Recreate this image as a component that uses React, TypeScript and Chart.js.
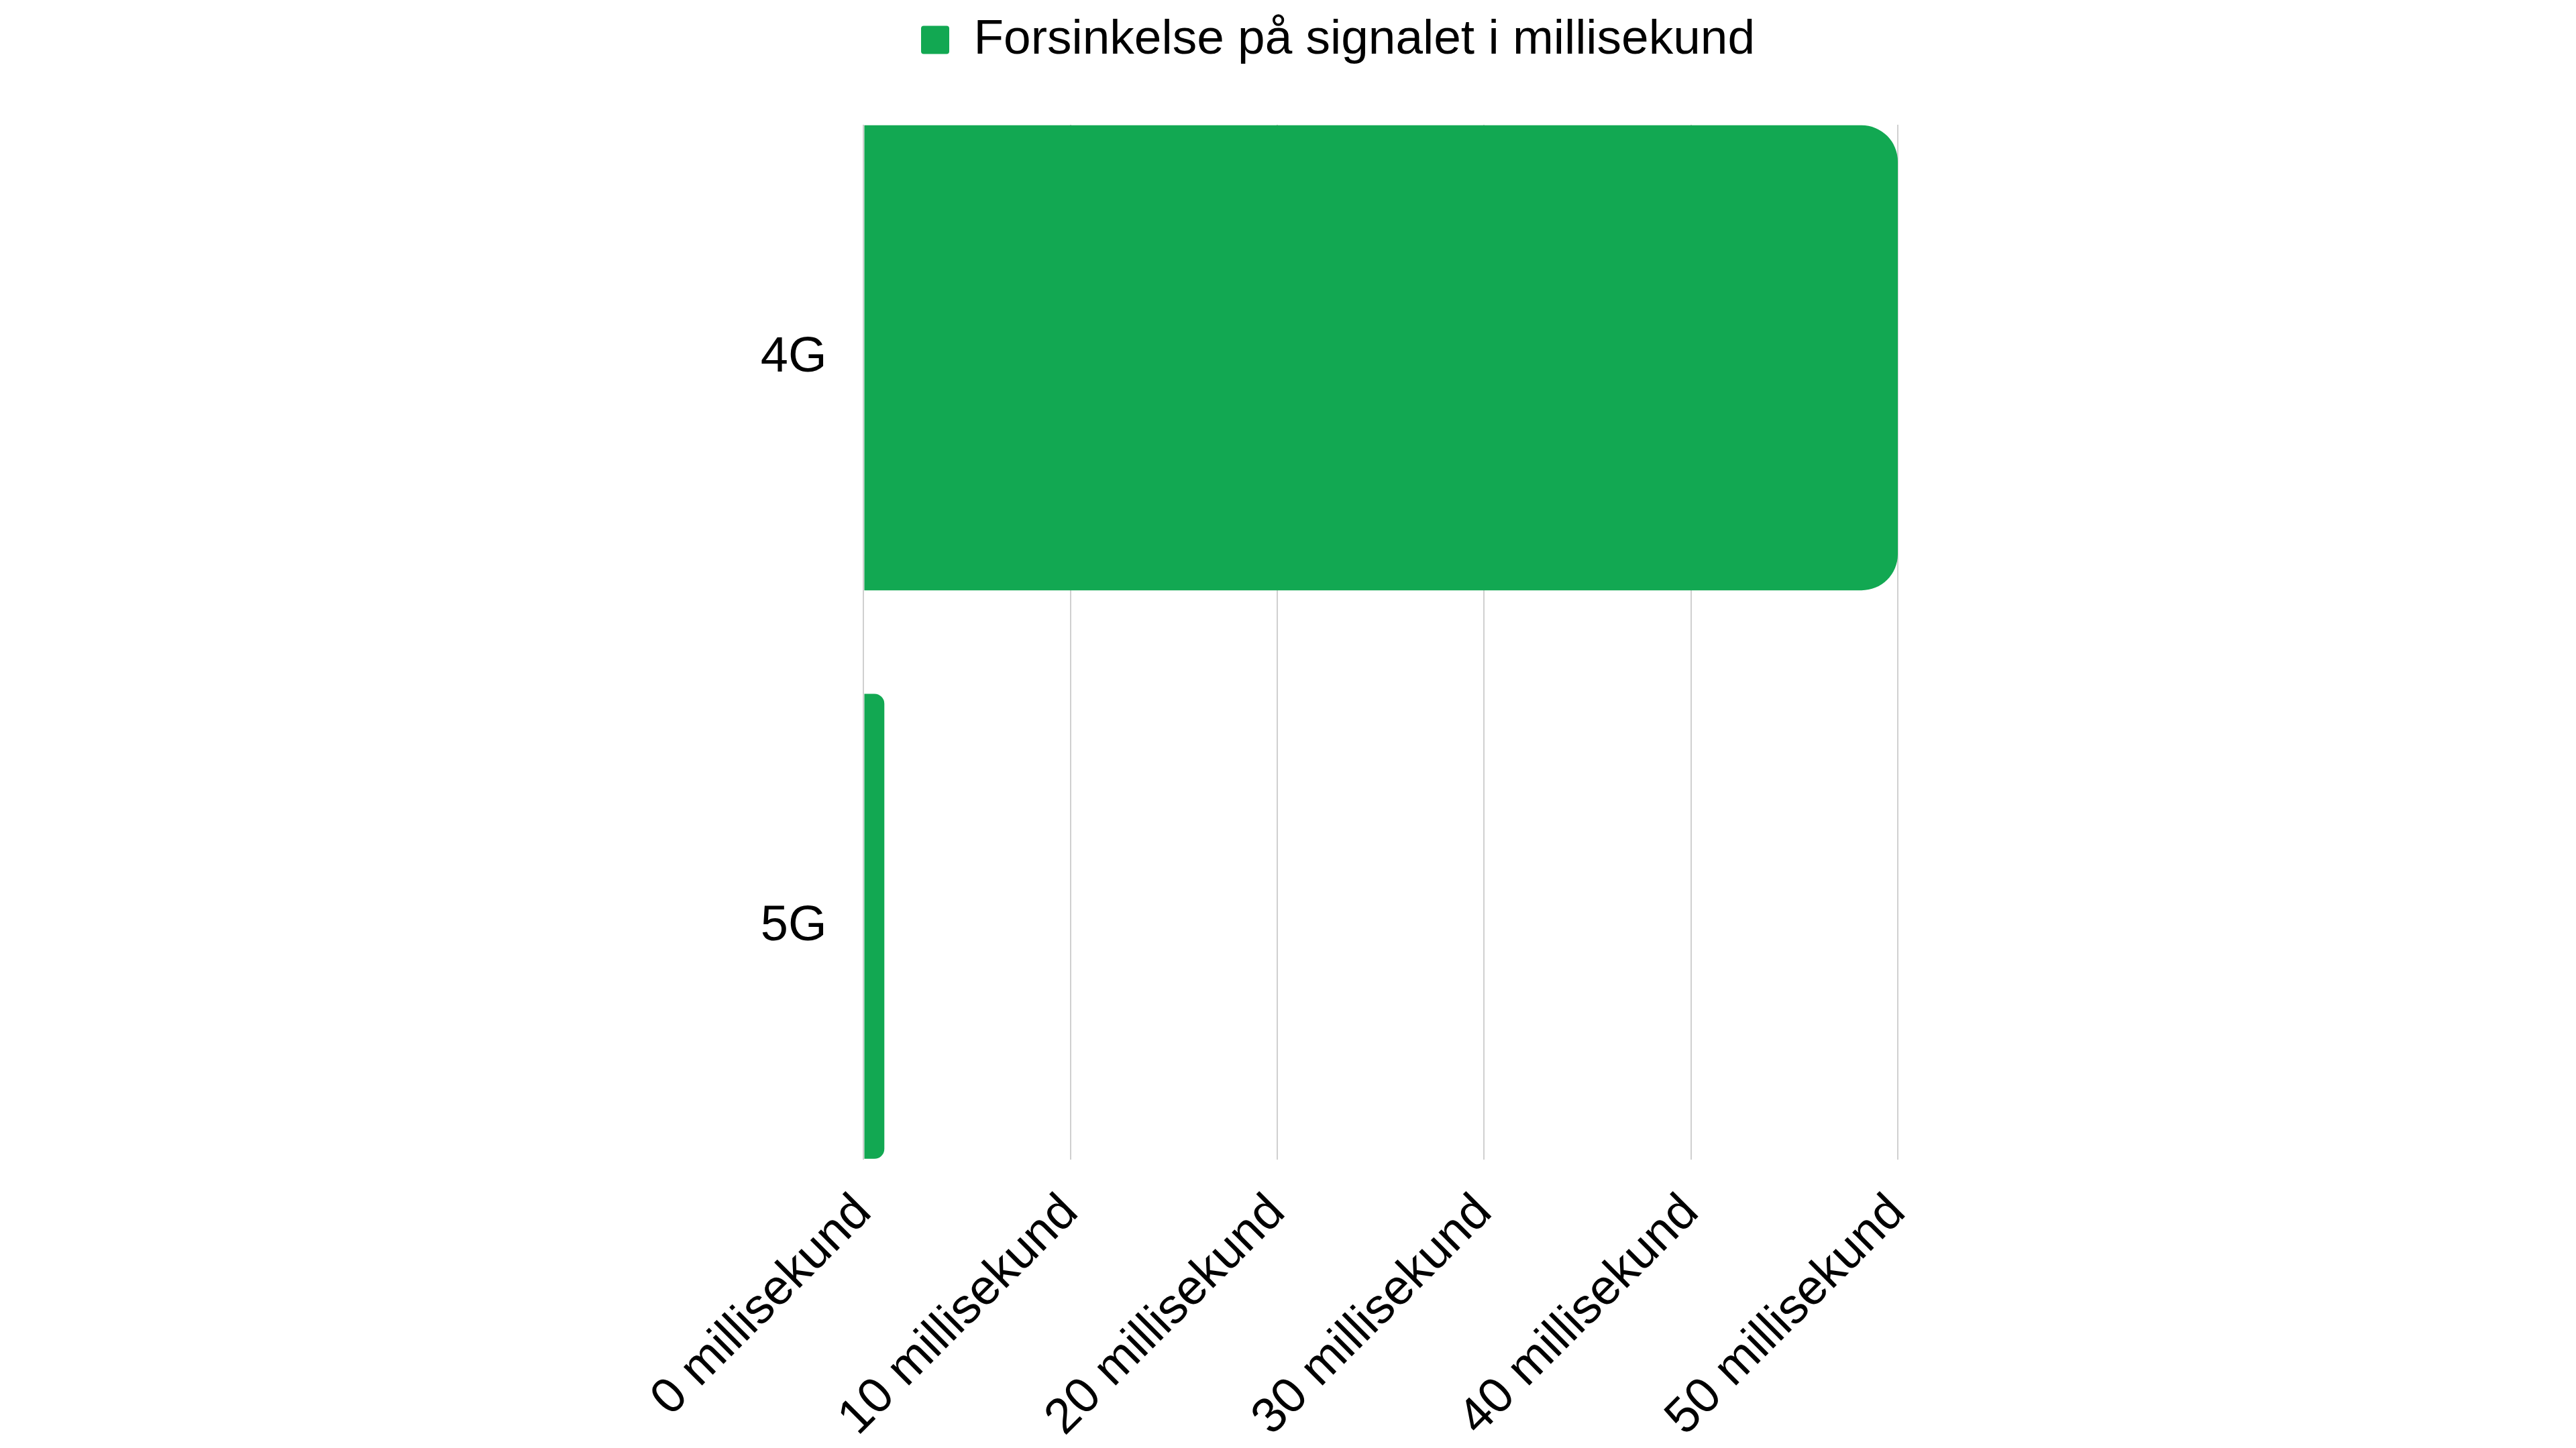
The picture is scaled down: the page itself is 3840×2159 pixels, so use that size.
import React, { useEffect, useRef } from "react";
import { Chart, registerables } from "chart.js";

Chart.register(...registerables);

const categories = ["4G", "5G"];
const latencyMs = [50, 1];
const tickValues = [0, 10, 20, 30, 40, 50];
const unitLabel = "millisekund";
const seriesLabel = "Forsinkelse på signalet i millisekund";

const GREEN = "#12a852";
const FONT = "'Liberation Sans', Arial, sans-serif";

// extra space between legend and plot area
const legendMargin = {
  id: "legendMargin",
  beforeInit(chart: any) {
    const fitValue = chart.legend.fit;
    chart.legend.fit = function fit() {
      fitValue.bind(chart.legend)();
      this.height += 80;
    };
  },
};

const App: React.FC = () => {
  const canvasRef = useRef<HTMLCanvasElement | null>(null);

  useEffect(() => {
    if (!canvasRef.current) return;

    const chart = new Chart(canvasRef.current, {
      type: "bar",
      data: {
        datasets: [
          {
            label: seriesLabel,
            data: latencyMs.map((v, i) => ({ x: v, y: i })),
            backgroundColor: GREEN,
            borderWidth: 0,
            borderRadius: 54,
            borderSkipped: "start",
            categoryPercentage: 0.909,
            barPercentage: 0.9,
          },
        ],
      },
      options: {
        indexAxis: "y",
        animation: false,
        responsive: true,
        maintainAspectRatio: false,
        layout: { padding: { top: 5, left: 0, right: 0, bottom: -45 } },
        plugins: {
          legend: {
            position: "top",
            labels: {
              boxWidth: 42,
              boxHeight: 42,
              useBorderRadius: true,
              borderRadius: 4,
              color: "#000",
              font: { family: FONT, size: 73 },
              padding: 10,
            },
          },
          tooltip: { enabled: false },
        },
        scales: {
          x: {
            type: "linear",
            min: 0,
            max: 50,
            afterBuildTicks: (scale) => {
              scale.ticks = tickValues.map((v) => ({ value: v }));
            },
            afterFit: (scale) => {
              scale.paddingRight = 211;
            },
            ticks: {
              minRotation: 45,
              maxRotation: 45,
              padding: 36,
              color: "#000",
              font: { family: FONT, size: 74 },
              callback: (v) => `${v} ${unitLabel}`,
            },
            grid: {
              color: "#d0d0d0",
              lineWidth: 2,
              drawTicks: false,
            },
            border: { display: false },
          },
          y: {
            type: "linear",
            reverse: true,
            offset: false,
            min: -0.41,
            max: 1.41,
            afterBuildTicks: (scale) => {
              scale.ticks = categories.map((_, i) => ({ value: i }));
            },
            ticks: {
              padding: 55,
              color: "#000",
              font: { family: FONT, size: 74 },
              callback: (v) => categories[Number(v)] ?? "",
            },
            grid: { display: false, drawTicks: false },
            border: { display: false },
          },
        },
      },
      plugins: [legendMargin],
    });

    return () => {
      chart.destroy();
    };
  }, []);

  return (
    <div style={{ width: 2091, height: 2142, marginLeft: 941, position: "relative" }}>
      <canvas ref={canvasRef} />
    </div>
  );
};

export default App;
